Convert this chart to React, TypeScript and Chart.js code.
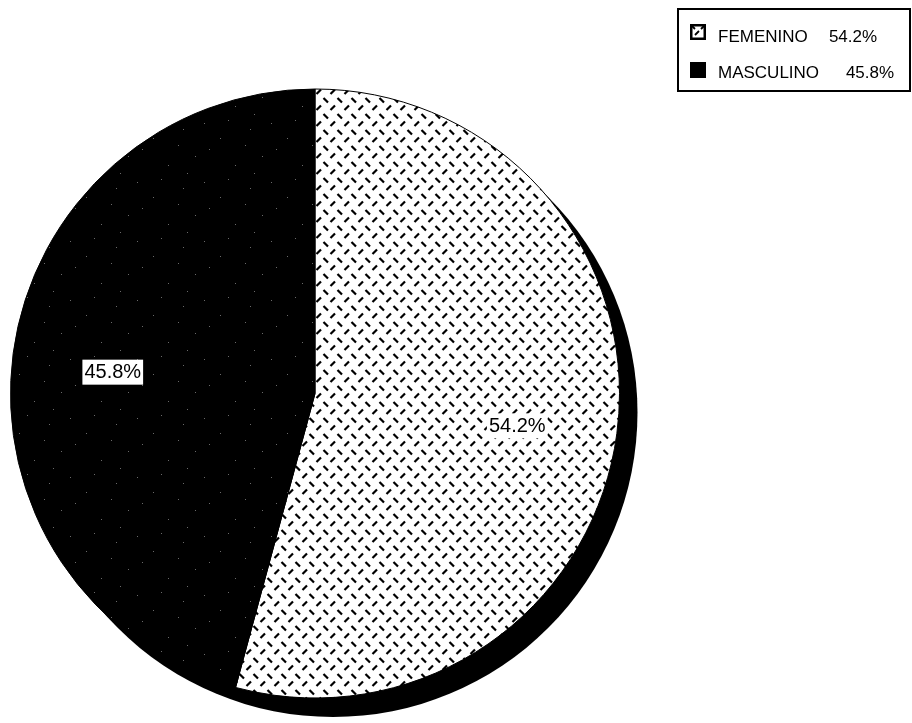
import React, { useEffect, useRef } from "react";
import { Chart, registerables } from "chart.js";

Chart.register(...registerables);

const categories = ["FEMENINO", "MASCULINO"];
const values = [54.2, 45.8];

function makeDashPattern(ctx: CanvasRenderingContext2D): CanvasPattern | string {
  const c = document.createElement("canvas");
  c.width = 14;
  c.height = 16;
  const g = c.getContext("2d")!;
  g.fillStyle = "#ffffff";
  g.fillRect(0, 0, 14, 16);
  g.strokeStyle = "#000000";
  g.lineWidth = 2.2;
  g.lineCap = "butt";
  g.beginPath();
  g.moveTo(1.5, 2);
  g.lineTo(6, 6.5);
  g.moveTo(8.5, 14);
  g.lineTo(13, 9.5);
  g.stroke();
  return ctx.createPattern(c, "repeat") || "#ffffff";
}

function makeSpecklePattern(ctx: CanvasRenderingContext2D): CanvasPattern | string {
  const c = document.createElement("canvas");
  c.width = 67;
  c.height = 59;
  const g = c.getContext("2d")!;
  g.fillStyle = "#000000";
  g.fillRect(0, 0, 67, 59);
  g.fillStyle = "#6a6a6a";
  const dots = [
    [3, 5], [27, 2], [49, 11], [61, 38], [8, 31], [34, 47], [53, 55], [19, 20], [44, 27],
  ];
  dots.forEach(([x, y]) => g.fillRect(x, y, 1, 1));
  return ctx.createPattern(c, "repeat") || "#000000";
}

const shadowPlugin = {
  id: "pieShadow",
  beforeDatasetsDraw(chart: any) {
    const meta = chart.getDatasetMeta(0);
    const arc = meta.data[0];
    if (!arc) return;
    const { x, y, outerRadius } = arc.getProps(["x", "y", "outerRadius"], true);
    const ctx = chart.ctx;
    ctx.save();
    ctx.fillStyle = "#000000";
    ctx.beginPath();
    ctx.arc(x + 18, y + 19, outerRadius, 0, Math.PI * 2);
    ctx.fill();
    ctx.restore();
  },
};

const labelPlugin = {
  id: "sliceLabels",
  afterDatasetsDraw(chart: any) {
    const meta = chart.getDatasetMeta(0);
    const ctx = chart.ctx;
    ctx.save();
    ctx.font = '20px "Liberation Sans", Arial, sans-serif';
    ctx.textAlign = "center";
    ctx.textBaseline = "middle";
    meta.data.forEach((arc: any, i: number) => {
      const p = arc.getProps(["x", "y", "startAngle", "endAngle", "outerRadius"], true);
      const mid = (p.startAngle + p.endAngle) / 2;
      const r = p.outerRadius * 0.67;
      const lx = p.x + Math.cos(mid) * r;
      const ly = p.y + Math.sin(mid) * r + 5;
      const txt = values[i].toFixed(1) + "%";
      const w = ctx.measureText(txt).width;
      ctx.fillStyle = "#ffffff";
      ctx.fillRect(lx - w / 2 - 2, ly - 12, w + 4, 25);
      ctx.fillStyle = "#000000";
      ctx.fillText(txt, lx, ly + 1);
    });
    ctx.restore();
  },
};

const legendPlugin = {
  id: "boxLegend",
  afterDraw(chart: any) {
    const ctx = chart.ctx;
    ctx.save();
    const bx = 678, by = 9, bw = 232, bh = 82;
    ctx.fillStyle = "#ffffff";
    ctx.fillRect(bx, by, bw, bh);
    ctx.strokeStyle = "#000000";
    ctx.lineWidth = 2;
    ctx.strokeRect(bx, by, bw, bh);
    const swatchY = [24, 62];
    const textY = [37, 73];
    const numX = [853, 870];
    ctx.font = '17px "Liberation Sans", Arial, sans-serif';
    ctx.textBaseline = "middle";
    categories.forEach((name, i) => {
      const sy = swatchY[i];
      ctx.fillStyle = i === 0 ? "#ffffff" : "#000000";
      ctx.fillRect(690, sy, 16, 16);
      if (i === 0) {
        ctx.strokeStyle = "#000000";
        ctx.lineWidth = 2.5;
        ctx.strokeRect(691.25, sy + 1.25, 13.5, 13.5);
        ctx.lineWidth = 1.8;
        ctx.beginPath();
        ctx.moveTo(695, sy + 11);
        ctx.lineTo(699, sy + 7);
        ctx.moveTo(701, sy + 5);
        ctx.lineTo(704, sy + 2);
        ctx.moveTo(692, sy + 2);
        ctx.lineTo(695, sy + 5);
        ctx.stroke();
      }
      ctx.fillStyle = "#000000";
      ctx.textAlign = "left";
      ctx.fillText(name, 718, textY[i]);
      ctx.textAlign = "center";
      ctx.fillText(values[i].toFixed(1) + "%", numX[i], textY[i]);
    });
    ctx.restore();
  },
};

export default function App() {
  const ref = useRef<HTMLCanvasElement | null>(null);
  useEffect(() => {
    const canvas = ref.current!;
    const ctx = canvas.getContext("2d")!;
    const chart = new Chart(canvas, {
      type: "pie",
      data: {
        labels: categories,
        datasets: [
          {
            data: values,
            backgroundColor: [makeDashPattern(ctx), makeSpecklePattern(ctx)] as any,
            borderColor: "#000000",
            borderWidth: 1,
          },
        ],
      },
      options: {
        animation: false,
        responsive: false,
        maintainAspectRatio: false,
        layout: { padding: { left: 10, right: 292, top: 88, bottom: 24 } },
        plugins: {
          legend: { display: false },
          tooltip: { enabled: false },
        },
      },
      plugins: [shadowPlugin, labelPlugin, legendPlugin],
    });
    return () => chart.destroy();
  }, []);
  return (
    <div style={{ position: "fixed", left: 0, top: 0, width: 912, height: 723, background: "#ffffff" }}>
      <canvas ref={ref} width={912} height={723} style={{ display: "block" }} />
    </div>
  );
}
